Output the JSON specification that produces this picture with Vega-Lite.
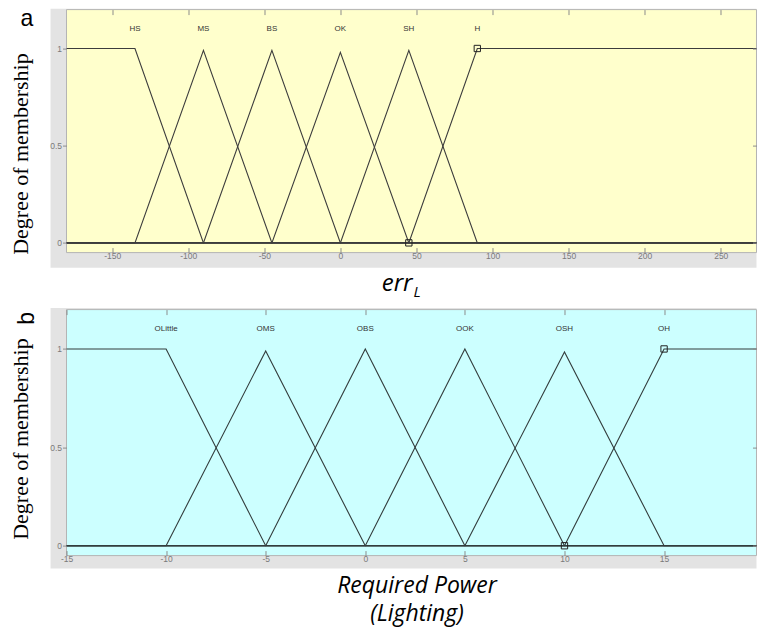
{
  "$schema": "https://vega.github.io/schema/vega-lite/v6.json",
  "padding": {"left": 8.5, "top": 6.6, "right": 0, "bottom": 2},
  "background": "white",
  "spacing": 57,
  "bounds": "flush",
  "config": {
    "view": {"stroke": null},
    "axis": {"zindex": 1, "grid": false, "domain": false, "labelFont": "Liberation Sans", "labelFontSize": 8.5, "labelColor": "#7a7a7a", "tickColor": "#8c8c8c", "tickWidth": 1, "labelFlush": false}
  },
  "datasets": {
    "top_mf": [
      {"mf": "HS", "x": -180, "mu": 1}, {"mf": "HS", "x": -135, "mu": 1}, {"mf": "HS", "x": -90, "mu": 0}, {"mf": "HS", "x": 273.5, "mu": 0},
      {"mf": "MS", "x": -180, "mu": 0}, {"mf": "MS", "x": -135, "mu": 0}, {"mf": "MS", "x": -90, "mu": 0.99}, {"mf": "MS", "x": -45, "mu": 0}, {"mf": "MS", "x": 273.5, "mu": 0},
      {"mf": "BS", "x": -180, "mu": 0}, {"mf": "BS", "x": -90, "mu": 0}, {"mf": "BS", "x": -45, "mu": 0.99}, {"mf": "BS", "x": 0, "mu": 0}, {"mf": "BS", "x": 273.5, "mu": 0},
      {"mf": "OK", "x": -180, "mu": 0}, {"mf": "OK", "x": -45, "mu": 0}, {"mf": "OK", "x": 0, "mu": 0.98}, {"mf": "OK", "x": 45, "mu": 0}, {"mf": "OK", "x": 273.5, "mu": 0},
      {"mf": "SH", "x": -180, "mu": 0}, {"mf": "SH", "x": 0, "mu": 0}, {"mf": "SH", "x": 45, "mu": 0.99}, {"mf": "SH", "x": 90, "mu": 0}, {"mf": "SH", "x": 273.5, "mu": 0},
      {"mf": "H", "x": -180, "mu": 0}, {"mf": "H", "x": 45, "mu": 0}, {"mf": "H", "x": 90, "mu": 1}, {"mf": "H", "x": 273.5, "mu": 1}
    ],
    "top_labels": [
      {"mf": "HS", "x": -135}, {"mf": "MS", "x": -90}, {"mf": "BS", "x": -45},
      {"mf": "OK", "x": 0}, {"mf": "SH", "x": 45}, {"mf": "H", "x": 90}
    ],
    "top_markers": [{"x": 90, "mu": 1}, {"x": 45, "mu": 0}],
    "bot_mf": [
      {"mf": "OLittle", "x": -15, "mu": 1}, {"mf": "OLittle", "x": -10, "mu": 1}, {"mf": "OLittle", "x": -5, "mu": 0}, {"mf": "OLittle", "x": 19.64, "mu": 0},
      {"mf": "OMS", "x": -15, "mu": 0}, {"mf": "OMS", "x": -10, "mu": 0}, {"mf": "OMS", "x": -5, "mu": 0.99}, {"mf": "OMS", "x": 0, "mu": 0}, {"mf": "OMS", "x": 19.64, "mu": 0},
      {"mf": "OBS", "x": -15, "mu": 0}, {"mf": "OBS", "x": -5, "mu": 0}, {"mf": "OBS", "x": 0, "mu": 1}, {"mf": "OBS", "x": 5, "mu": 0}, {"mf": "OBS", "x": 19.64, "mu": 0},
      {"mf": "OOK", "x": -15, "mu": 0}, {"mf": "OOK", "x": 0, "mu": 0}, {"mf": "OOK", "x": 5, "mu": 1}, {"mf": "OOK", "x": 10, "mu": 0}, {"mf": "OOK", "x": 19.64, "mu": 0},
      {"mf": "OSH", "x": -15, "mu": 0}, {"mf": "OSH", "x": 5, "mu": 0}, {"mf": "OSH", "x": 10, "mu": 0.985}, {"mf": "OSH", "x": 15, "mu": 0}, {"mf": "OSH", "x": 19.64, "mu": 0},
      {"mf": "OH", "x": -15, "mu": 0}, {"mf": "OH", "x": 10, "mu": 0}, {"mf": "OH", "x": 15, "mu": 1}, {"mf": "OH", "x": 19.64, "mu": 1}
    ],
    "bot_labels": [
      {"mf": "OLittle", "x": -10}, {"mf": "OMS", "x": -5}, {"mf": "OBS", "x": 0},
      {"mf": "OOK", "x": 5}, {"mf": "OSH", "x": 10}, {"mf": "OH", "x": 15}
    ],
    "bot_markers": [{"x": 15, "mu": 1}, {"x": 10, "mu": 0}]
  },
  "vconcat": [
    {
      "width": 690,
      "height": 243,
      "resolve": {"scale": {"x": "shared", "y": "shared"}, "axis": {"x": "independent", "y": "independent"}},
      "layer": [
        {
          "data": {"values": [{"panel": "a"}]},
          "mark": {"type": "rect", "fill": "#e3e3e3"},
          "encoding": {
            "x": {"datum": -190.5, "type": "quantitative", "scale": {"domain": [-180, 273.5], "zero": false, "nice": false}, "axis": null},
            "x2": {"datum": 273.5},
            "y": {"datum": -0.128, "type": "quantitative", "scale": {"domain": [-0.05, 1.2], "zero": false, "nice": false}, "axis": null},
            "y2": {"datum": 1.205}
          }
        },
        {
          "data": {"values": [{"panel": "a"}]},
          "mark": {"type": "rect", "fill": "#ffffcc", "stroke": "#b4b4b4", "strokeWidth": 1},
          "encoding": {
            "x": {"datum": -180, "type": "quantitative", "scale": {"domain": [-180, 273.5], "zero": false, "nice": false}, "axis": null},
            "x2": {"datum": 273.5},
            "y": {"datum": -0.05, "type": "quantitative", "scale": {"domain": [-0.05, 1.2], "zero": false, "nice": false}, "axis": null},
            "y2": {"datum": 1.2}
          }
        },
        {
          "data": {"name": "top_mf"},
          "mark": {"type": "line", "stroke": "#3c3c3c", "strokeWidth": 1.1},
          "encoding": {
            "x": {"field": "x", "type": "quantitative", "scale": {"domain": [-180, 273.5], "zero": false, "nice": false},
              "axis": {"orient": "bottom", "zindex": 2, "values": [-150, -100, -50, 0, 50, 100, 150, 200, 250], "labelExpr": "'' + datum.value", "tickSize": -5, "labelPadding": 4, "labelFlush": false,
                "title": "err", "titleFont": "Open Sans", "titleFontStyle": "italic", "titleFontWeight": "normal", "titleFontSize": 24, "titleColor": "#000000",
                "titleAlign": "left", "titleX": 314.7, "titleY": 38, "titleBaseline": "alphabetic"}},
            "y": {"field": "mu", "type": "quantitative", "scale": {"domain": [-0.05, 1.2], "zero": false, "nice": false},
              "axis": {"orient": "left", "zindex": 2, "values": [0, 0.5, 1], "labelExpr": "'' + datum.value", "tickSize": 4, "labelPadding": 1,
                "title": "Degree of membership", "titleFont": "Liberation Serif", "titleFontWeight": "normal", "titleFontSize": 22, "titleColor": "#000000",
                "titleAngle": 270, "titleAlign": "center", "titleBaseline": "alphabetic", "titleX": -39, "titleY": 144}},
            "detail": {"field": "mf"}
          }
        },
        {
          "data": {"name": "top_markers"},
          "mark": {"type": "point", "shape": "square", "filled": false, "size": 40, "stroke": "#222222", "strokeWidth": 1, "opacity": 1},
          "encoding": {
            "x": {"field": "x", "type": "quantitative", "scale": {"domain": [-180, 273.5], "zero": false, "nice": false},
              "axis": {"orient": "top", "zindex": 2, "values": [-150, -100, -50, 0, 50, 100, 150, 200, 250], "tickSize": -5, "labels": false, "title": null}},
            "y": {"field": "mu", "type": "quantitative", "scale": {"domain": [-0.05, 1.2], "zero": false, "nice": false},
              "axis": {"orient": "right", "zindex": 2, "values": [0, 0.5, 1], "tickSize": -4, "labels": false, "title": null}}
          }
        },
        {
          "data": {"name": "top_labels"},
          "mark": {"type": "text", "font": "Liberation Sans", "fontSize": 8, "color": "#333333", "baseline": "middle", "align": "center"},
          "encoding": {
            "x": {"field": "x", "type": "quantitative", "scale": {"domain": [-180, 273.5], "zero": false, "nice": false}, "axis": null},
            "y": {"datum": 1.1, "type": "quantitative", "scale": {"domain": [-0.05, 1.2], "zero": false, "nice": false}, "axis": null},
            "text": {"field": "mf"}
          }
        },
        {
          "data": {"values": [{"panel": "a"}]},
          "mark": {"type": "text", "font": "Liberation Sans", "fontSize": 23, "color": "#000000", "baseline": "alphabetic", "align": "center"},
          "encoding": {
            "x": {"datum": -206, "type": "quantitative", "axis": null},
            "y": {"datum": 1.118, "type": "quantitative", "axis": null},
            "text": {"field": "panel"}
          }
        },
        {
          "data": {"values": [{"sub": "L"}]},
          "mark": {"type": "text", "font": "Open Sans", "fontStyle": "italic", "fontSize": 15, "color": "#000000", "baseline": "alphabetic", "align": "left"},
          "encoding": {
            "x": {"datum": 48, "type": "quantitative", "axis": null},
            "y": {"datum": -0.28, "type": "quantitative", "axis": null},
            "text": {"field": "sub"}
          }
        }
      ]
    },
    {
      "width": 690,
      "height": 246,
      "resolve": {"scale": {"x": "shared", "y": "shared"}, "axis": {"x": "independent", "y": "independent"}},
      "layer": [
        {
          "data": {"values": [{"panel": "b"}]},
          "mark": {"type": "rect", "fill": "#e3e3e3"},
          "encoding": {
            "x": {"datum": -15.8, "type": "quantitative", "scale": {"domain": [-15, 19.64], "zero": false, "nice": false}, "axis": null},
            "x2": {"datum": 19.64},
            "y": {"datum": -0.116, "type": "quantitative", "scale": {"domain": [-0.05, 1.2], "zero": false, "nice": false}, "axis": null},
            "y2": {"datum": 1.2076}
          }
        },
        {
          "data": {"values": [{"panel": "b"}]},
          "mark": {"type": "rect", "fill": "#ccffff", "stroke": "#b4b4b4", "strokeWidth": 1},
          "encoding": {
            "x": {"datum": -15, "type": "quantitative", "scale": {"domain": [-15, 19.64], "zero": false, "nice": false}, "axis": null},
            "x2": {"datum": 19.64},
            "y": {"datum": -0.05, "type": "quantitative", "scale": {"domain": [-0.05, 1.2], "zero": false, "nice": false}, "axis": null},
            "y2": {"datum": 1.2}
          }
        },
        {
          "data": {"name": "bot_mf"},
          "mark": {"type": "line", "stroke": "#333d3d", "strokeWidth": 1.1},
          "encoding": {
            "x": {"field": "x", "type": "quantitative", "scale": {"domain": [-15, 19.64], "zero": false, "nice": false},
              "axis": {"orient": "bottom", "zindex": 2, "values": [-15, -10, -5, 0, 5, 10, 15], "labelExpr": "'' + datum.value", "tickSize": -5, "labelPadding": 4, "labelFlush": false,
                "title": ["Required Power", "(Lighting)"], "titleFont": "Open Sans", "titleFontStyle": "italic", "titleFontWeight": "normal", "titleFontSize": 23, "titleColor": "#000000",
                "titleLineHeight": 28.3, "titleAlign": "center", "titleX": 350, "titleY": 36.7, "titleBaseline": "alphabetic"}},
            "y": {"field": "mu", "type": "quantitative", "scale": {"domain": [-0.05, 1.2], "zero": false, "nice": false},
              "axis": {"orient": "left", "zindex": 2, "values": [0, 0.5, 1], "labelExpr": "'' + datum.value", "tickSize": 4, "labelPadding": 1,
                "title": "Degree of membership", "titleFont": "Liberation Serif", "titleFontWeight": "normal", "titleFontSize": 22, "titleColor": "#000000",
                "titleAngle": 270, "titleAlign": "center", "titleBaseline": "alphabetic", "titleX": -39, "titleY": 129}},
            "detail": {"field": "mf"}
          }
        },
        {
          "data": {"name": "bot_markers"},
          "mark": {"type": "point", "shape": "square", "filled": false, "size": 40, "stroke": "#222222", "strokeWidth": 1, "opacity": 1},
          "encoding": {
            "x": {"field": "x", "type": "quantitative", "scale": {"domain": [-15, 19.64], "zero": false, "nice": false},
              "axis": {"orient": "top", "zindex": 2, "values": [-15, -10, -5, 0, 5, 10, 15], "tickSize": -5, "labels": false, "title": null}},
            "y": {"field": "mu", "type": "quantitative", "scale": {"domain": [-0.05, 1.2], "zero": false, "nice": false},
              "axis": {"orient": "right", "zindex": 2, "values": [0, 0.5, 1], "tickSize": -4, "labels": false, "title": null}}
          }
        },
        {
          "data": {"name": "bot_labels"},
          "mark": {"type": "text", "font": "Liberation Sans", "fontSize": 8, "color": "#333333", "baseline": "middle", "align": "center"},
          "encoding": {
            "x": {"field": "x", "type": "quantitative", "scale": {"domain": [-15, 19.64], "zero": false, "nice": false}, "axis": null},
            "y": {"datum": 1.1, "type": "quantitative", "scale": {"domain": [-0.05, 1.2], "zero": false, "nice": false}, "axis": null},
            "text": {"field": "mf"}
          }
        },
        {
          "data": {"values": [{"panel": "b"}]},
          "mark": {"type": "text", "font": "Liberation Sans", "fontSize": 23, "color": "#000000", "baseline": "middle", "align": "center", "angle": 270},
          "encoding": {
            "x": {"datum": -17.0, "type": "quantitative", "axis": null},
            "y": {"datum": 1.155, "type": "quantitative", "axis": null},
            "text": {"field": "panel"}
          }
        }
      ]
    }
  ]
}
